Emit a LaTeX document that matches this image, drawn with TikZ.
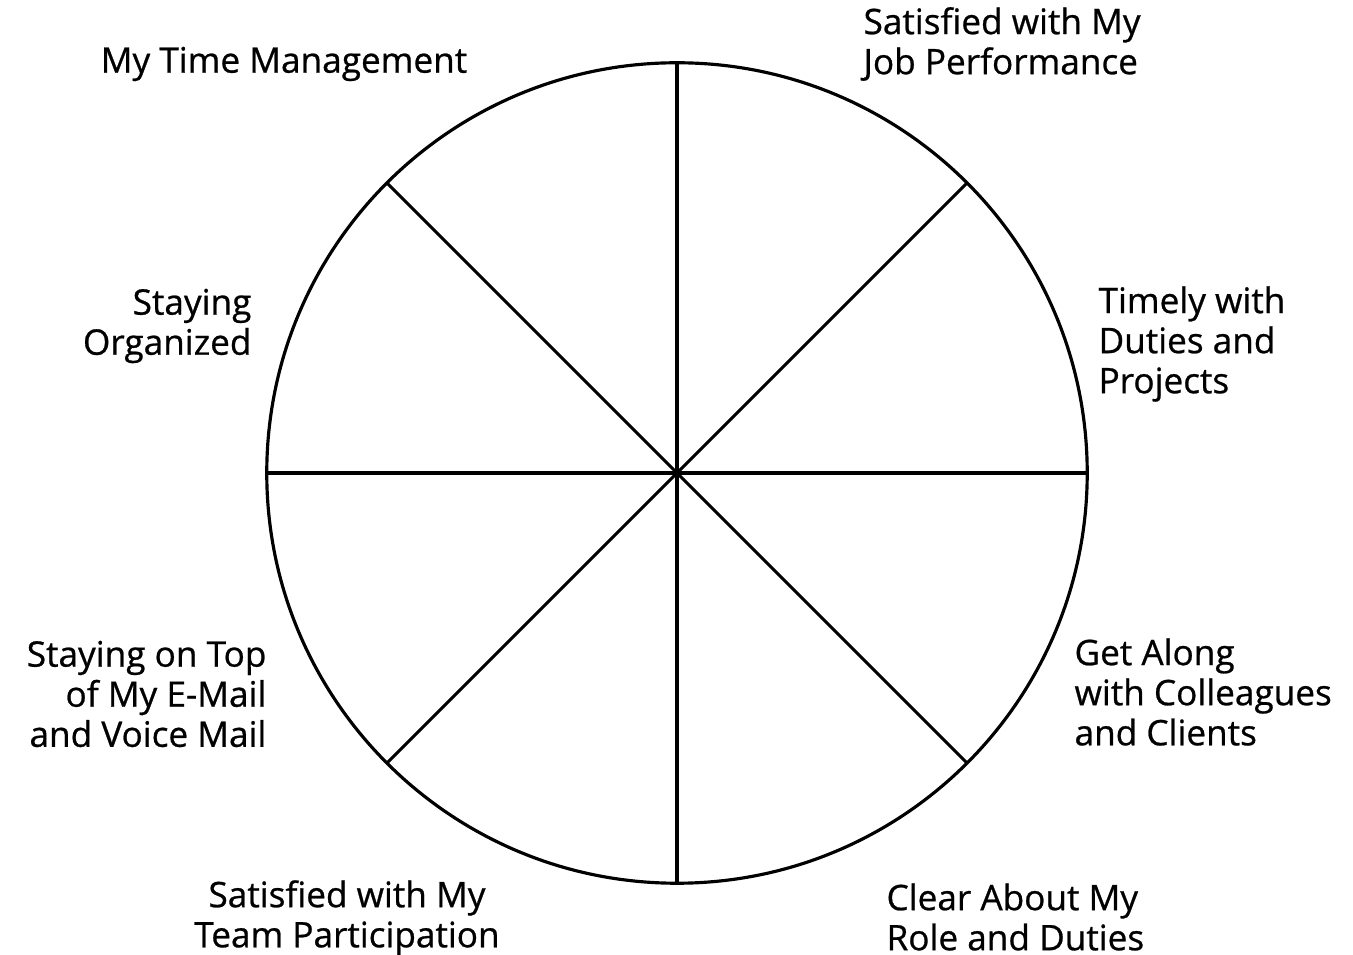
\documentclass[tikz,border=0pt]{standalone}
\usepackage{fontspec}
\setmainfont{Open Sans}[FakeBold=0.7]
\usetikzlibrary{positioning}

\begin{document}
\begin{tikzpicture}[x=0.01cm,y=-0.01cm,line width=0.9pt,
  wheel/.style={draw,circle,minimum size=8.2cm,inner sep=0pt,outer sep=0pt},
  lab/.style={inner sep=0pt,font=\fontsize{10}{11.4}\selectfont}]
\useasboundingbox (0,0) rectangle (1353,955);
\node[wheel] (rim) at (677,473) {};
\foreach \a in {0,45,90,135}
  {\pgfmathsetmacro\b{\a+180}\draw (rim.\a) -- (rim.\b);}
\node[lab] (time) at (284,64) {My Time Management};
\node[lab,align=left,anchor=west] (job) at (862,44) {Satisfied with My\\Job Performance};
\node[lab,align=left,anchor=west] (timely) at (1097,344) {Timely with\\Duties and\\Projects};
\node[lab,align=left,anchor=west] (along) at (1073,692) {Get Along\\with Colleagues\\and Clients};
\node[lab,align=left,anchor=west] (role) at (885,917) {Clear About My\\Role and Duties};
\node[lab,align=center] (team) at (347,918) {Satisfied with My\\Team Participation};
\node[lab,align=right,anchor=east] (mail) at (268,694) {Staying on Top\\of My E-Mail\\and Voice Mail};
\node[lab,align=right,anchor=east] (organized) at (253,326) {Staying\\Organized};
\end{tikzpicture}
\end{document}
